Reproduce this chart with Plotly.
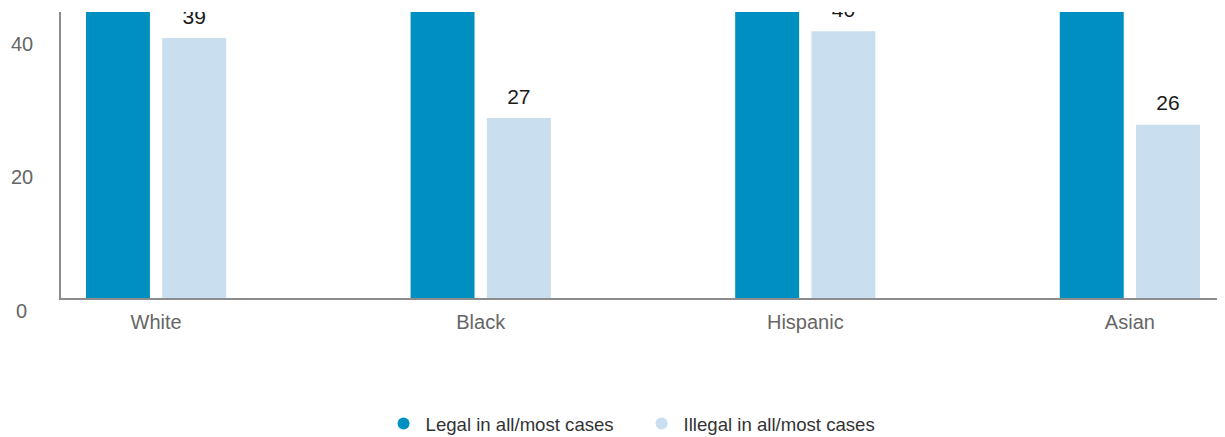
import plotly.graph_objects as go

categories = ["White", "Black", "Hispanic", "Asian"]
legal = [60, 71, 58, 74]
illegal = [39, 27, 40, 26]
series_names = ["Legal in all/most cases", "Illegal in all/most cases"]
ytick_vals = [0, 20, 40]
ytick_text = ["0", "20", "40"]

DARK = "#008FC1"
LIGHT = "#C9DEEE"
FONT = "Liberation Sans"

BAR_W = 0.197
OFF_DARK = -0.216
OFF_LIGHT = 0.019

x_idx = list(range(len(categories)))

fig = go.Figure()
fig.add_trace(go.Bar(
    x=x_idx, y=legal, width=BAR_W, offset=OFF_DARK,
    marker=dict(color=DARK, line=dict(width=0)),
    showlegend=False, hoverinfo="skip",
))
fig.add_trace(go.Bar(
    x=x_idx, y=illegal, width=BAR_W, offset=OFF_LIGHT,
    marker=dict(color=LIGHT, line=dict(width=0)),
    showlegend=False, hoverinfo="skip",
))
# value labels above the light bars
fig.add_trace(go.Scatter(
    x=[i + OFF_LIGHT + BAR_W / 2 for i in x_idx], y=illegal,
    mode="markers+text", text=[str(v) for v in illegal], textposition="top center",
    marker=dict(size=13, opacity=0),
    textfont=dict(family=FONT, size=21, color="#1a1a1a"),
    cliponaxis=True, showlegend=False, hoverinfo="skip",
))
# legend entries with round markers
for name, col in zip(series_names, [DARK, LIGHT]):
    fig.add_trace(go.Scatter(
        x=[None], y=[None], mode="markers", name=name,
        marker=dict(symbol="circle", size=15, color=col),
    ))

annotations = []
for v, t in zip(ytick_vals, ytick_text):
    annotations.append(dict(
        x=-0.0339, xref="paper", y=v, yref="y", yshift=-12.5,
        text=t, showarrow=False, xanchor="center", yanchor="middle",
        font=dict(family=FONT, size=20, color="#666666"),
    ))

fig.update_layout(
    width=1217, height=429,
    margin=dict(l=53, r=0, t=4, b=139, autoexpand=False),
    paper_bgcolor="white", plot_bgcolor="white",
    barmode="overlay",
    font=dict(family=FONT, size=18, color="#333333"),
    annotations=annotations,
    xaxis=dict(
        range=[-0.293, 3.293], tickmode="array", tickvals=x_idx, ticktext=categories,
        showgrid=False, zeroline=False, showline=True, linecolor="#8C8C8C", linewidth=2,
        ticks="", ticklabelstandoff=5, tickfont=dict(family=FONT, size=20, color="#666666"),
        fixedrange=True,
    ),
    yaxis=dict(
        range=[0, 42.9], showgrid=False, zeroline=False, showline=True,
        linecolor="#8C8C8C", linewidth=2, showticklabels=False, ticks="",
        fixedrange=True,
    ),
    legend=dict(
        orientation="h", x=0.2754, xanchor="left", y=-0.44, yanchor="middle",
        font=dict(family=FONT, size=18.6, color="#333333"),
        itemsizing="constant", itemwidth=34,
        entrywidth=209, entrywidthmode="pixels",
    ),
)

fig.write_html("out.html")
